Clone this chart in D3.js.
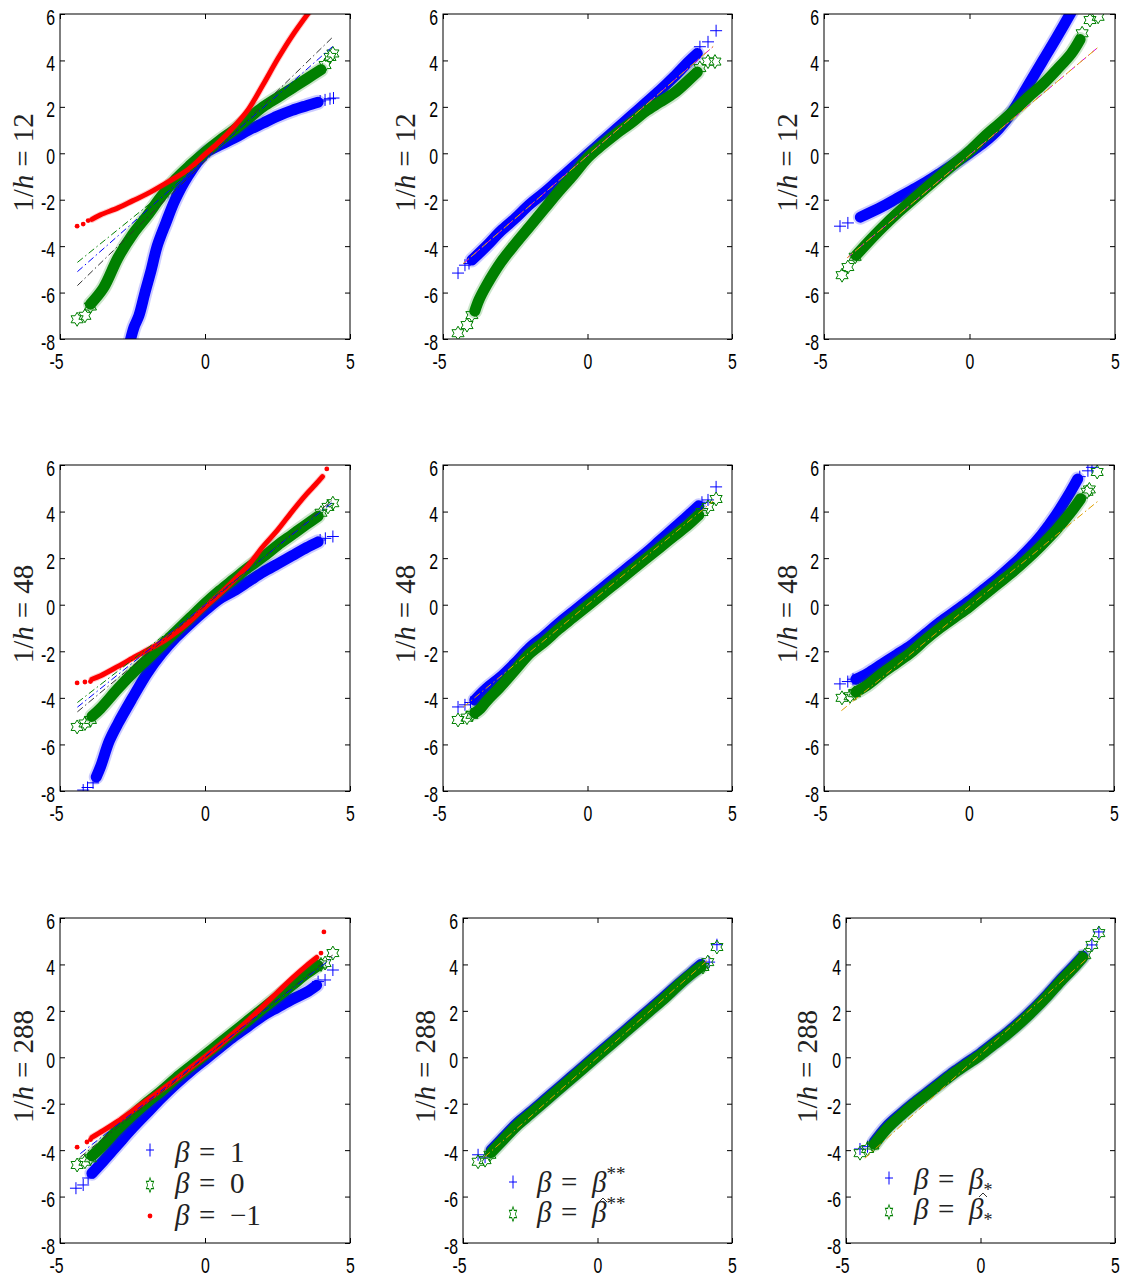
<!DOCTYPE html>
<html><head><meta charset="utf-8">
<script src="https://cdn.jsdelivr.net/npm/d3@7"></script>
<style>body{margin:0;background:#fff}</style>
</head><body>
<svg id="c" width="1126" height="1282"></svg>
<script>
// ---------- axis values ----------
const X_DOMAIN = [-5, 5];
const Y_DOMAIN = [-8, 6];
const xTicks = [-5, 0, 5];
const yTicks = [-8, -6, -4, -2, 0, 2, 4, 6];
const rowLabels = ["12", "48", "288"];

// ---------- row 1 (1/h = 12) ----------
const r1c1_blue  = [[-2.62,-8.3],[-2.45,-7.5],[-2.28,-7],[-2.07,-6],[-1.85,-5],[-1.65,-4],[-1.35,-3],[-1.03,-2],[-0.6,-1.0],[0,0],[0.5,0.35],[1,0.65],[1.5,1.0],[2,1.3],[2.5,1.6],[3,1.85],[3.5,2.05],[3.9,2.2]];
const r1c1_blueT = [[3.97,2.25],[4.14,2.3],[4.31,2.35],[4.43,2.38]];
const r1c1_green = [[-3.95,-6.5],[-3.5,-5.8],[-3,-4.5],[-2.5,-3.5],[-2,-2.7],[-1.5,-1.85],[-1,-1.1],[-0.5,-0.5],[0,0.05],[0.5,0.55],[1,1.0],[1.5,1.5],[2,2.0],[2.5,2.4],[3,2.8],[3.5,3.2],[4,3.6]];
const r1c1_greenT= [[-4.41,-7.15],[-4.14,-7.0],[-3.95,-6.6],[4.14,3.8],[4.31,4.15],[4.41,4.3]];
const r1c1_red   = [[-3.9,-2.85],[-3.6,-2.65],[-3,-2.35],[-2.5,-2.05],[-2,-1.75],[-1.3,-1.25],[-0.6,-0.72],[0,-0.05],[0.5,0.5],[1,1.15],[1.5,1.9],[2,2.95],[2.5,4.05],[3,5.05],[3.6,6.1]];
const r1c1_redT  = [[-4.41,-3.14],[-4.2,-3.05],[-4.03,-2.9]];
const r1c1_refs  = [{c:"#333", p:[[-4.4,-5.7],[4.4,5.0]]},{c:"#0000ff", p:[[-4.4,-5.1],[4.4,4.6]]},{c:"#008000", p:[[-4.4,-4.7],[4.4,4.2]]}];

const r1c2_blue  = [[-4.0,-4.6],[-3.5,-4.0],[-3,-3.35],[-2.5,-2.8],[-2,-2.2],[-1.5,-1.7],[-1,-1.15],[-0.5,-0.6],[0,-0.05],[0.5,0.5],[1,1.05],[1.5,1.6],[2,2.15],[2.5,2.7],[3,3.3],[3.5,3.95],[3.8,4.3]];
const r1c2_blueT = [[-4.48,-5.16],[-4.24,-4.82],[-4.1,-4.75],[3.89,4.59],[4.17,4.8],[4.45,5.28]];
const r1c2_green = [[-3.9,-6.8],[-3.75,-6.3],[-3.5,-5.7],[-3,-4.7],[-2.5,-3.9],[-2,-3.15],[-1.5,-2.4],[-1,-1.65],[-0.5,-0.95],[0,-0.2],[0.5,0.35],[1,0.85],[1.5,1.3],[2,1.8],[2.5,2.2],[3,2.6],[3.5,3.15],[3.8,3.5]];
const r1c2_greenT= [[-4.48,-7.75],[-4.17,-7.4],[-4.0,-6.97],[3.89,3.67],[4.17,3.95],[4.41,3.95]];
const r1c2_refs  = [{c:"#e000e0", p:[[-4.3,-4.75],[4.35,4.6]]},{c:"#e0b000", p:[[-4.3,-4.75],[4.35,4.6]], off:4}];

const r1c3_blue  = [[-3.75,-2.75],[-3,-2.3],[-2.5,-1.95],[-2,-1.6],[-1.5,-1.25],[-1,-0.85],[-0.5,-0.43],[0,0.01],[0.5,0.47],[1,1.05],[1.5,1.85],[2,2.9],[2.5,3.95],[3,5.0],[3.55,6.2]];
const r1c3_blueT = [[-4.45,-3.14],[-4.18,-3.0]];
const r1c3_green = [[-3.9,-4.4],[-3.5,-3.85],[-3,-3.2],[-2.5,-2.6],[-2,-2.05],[-1.5,-1.5],[-1,-0.96],[-0.5,-0.43],[0,0.1],[0.5,0.7],[1,1.25],[1.5,1.8],[2,2.4],[2.5,2.95],[3,3.6],[3.5,4.3],[3.8,4.9]];
const r1c3_greenT= [[-4.38,-5.25],[-4.18,-4.9],[-3.93,-4.46],[3.87,5.17],[4.14,5.74],[4.42,5.88]];
const r1c3_refs  = [{c:"#e000e0", p:[[-4.2,-4.5],[4.45,4.6]]},{c:"#e0b000", p:[[-4.2,-4.5],[4.45,4.6]], off:4}];

// ---------- row 2 (1/h = 48) ----------
const r2c1_blue  = [[-3.75,-7.4],[-3.6,-6.95],[-3.3,-5.85],[-3,-5.1],[-2.5,-4.0],[-2,-2.95],[-1.5,-2.1],[-1,-1.4],[-0.5,-0.8],[0,-0.25],[0.5,0.25],[1,0.6],[1.5,1.0],[2,1.4],[2.5,1.75],[3,2.1],[3.5,2.45],[3.9,2.7]];
const r2c1_blueT = [[-4.2,-7.96],[-4.05,-7.85],[-3.86,-7.65],[3.97,2.78],[4.15,2.85],[4.41,2.93]];
const r2c1_green = [[-3.9,-4.8],[-3.6,-4.45],[-3,-3.6],[-2.5,-2.95],[-2,-2.35],[-1.5,-1.75],[-1,-1.15],[-0.5,-0.55],[0,0.05],[0.5,0.6],[1,1.1],[1.5,1.6],[2,2.05],[2.5,2.55],[3,3.0],[3.5,3.45],[3.9,3.8]];
const r2c1_greenT= [[-4.41,-5.25],[-4.14,-5.1],[-3.95,-4.95],[4.0,3.95],[4.24,4.2],[4.41,4.36]];
const r2c1_red   = [[-3.9,-3.2],[-3.6,-3.05],[-3,-2.65],[-2.5,-2.3],[-2,-1.95],[-1.5,-1.62],[-1,-1.19],[-0.5,-0.69],[0,-0.1],[0.5,0.45],[1,1.05],[1.5,1.7],[2,2.5],[2.5,3.2],[3,4.0],[3.5,4.75],[3.8,5.15],[4.05,5.5]];
const r2c1_redT  = [[-4.41,-3.36],[-4.14,-3.32],[-3.95,-3.3],[4.2,5.83]];
const r2c1_refs  = [{c:"#333", p:[[-4.4,-4.6],[4.4,4.5]]},{c:"#0000ff", p:[[-4.4,-4.4],[4.4,4.4]]},{c:"#008000", p:[[-4.4,-4.2],[4.4,4.3]]}];

const r2c2_blue  = [[-3.9,-4.1],[-3.5,-3.6],[-3,-3.1],[-2.5,-2.5],[-2,-1.85],[-1.5,-1.35],[-1,-0.8],[-0.5,-0.3],[0,0.2],[0.5,0.7],[1,1.2],[1.5,1.7],[2,2.2],[2.5,2.75],[3,3.3],[3.5,3.85],[3.85,4.25]];
const r2c2_blueT = [[-4.48,-4.39],[-4.24,-4.3],[-4.05,-4.2],[3.96,4.4],[4.17,4.5],[4.45,5.06]];
const r2c2_green = [[-3.9,-4.65],[-3.7,-4.45],[-3.5,-4.15],[-3,-3.5],[-2.5,-2.8],[-2,-2.1],[-1.5,-1.6],[-1,-1.05],[-0.5,-0.55],[0,-0.05],[0.5,0.45],[1,0.95],[1.5,1.45],[2,1.95],[2.5,2.45],[3,2.95],[3.5,3.45],[3.85,3.85]];
const r2c2_greenT= [[-4.48,-4.95],[-4.17,-4.85],[-4.0,-4.73],[3.96,3.98],[4.17,4.2],[4.45,4.54]];
const r2c2_refs  = [{c:"#e0a000", p:[[-4.3,-4.4],[4.35,4.45]]}];

const r2c3_blue  = [[-3.9,-3.2],[-3.5,-2.95],[-3,-2.55],[-2.5,-2.15],[-2,-1.75],[-1.5,-1.25],[-1,-0.75],[-0.5,-0.3],[0,0.15],[0.5,0.65],[1,1.15],[1.5,1.7],[2,2.3],[2.5,3.0],[3,3.85],[3.5,4.85],[3.75,5.4]];
const r2c3_blueT = [[-4.45,-3.4],[-4.18,-3.3],[-4.0,-3.2],[3.82,5.5],[4.1,5.75],[4.24,5.9]];
const r2c3_green = [[-3.9,-3.75],[-3.5,-3.45],[-3,-2.95],[-2.5,-2.5],[-2,-2.05],[-1.5,-1.5],[-1,-1.0],[-0.5,-0.55],[0,-0.1],[0.5,0.4],[1,0.9],[1.5,1.4],[2,1.95],[2.5,2.55],[3,3.2],[3.5,3.95],[3.85,4.55]];
const r2c3_greenT= [[-4.38,-4.0],[-4.1,-3.93],[-3.95,-3.8],[4.07,4.85],[4.15,4.95],[4.42,5.7]];
const r2c3_refs  = [{c:"#e0a000", p:[[-4.4,-4.55],[4.45,4.45]]}];

// ---------- row 3 (1/h = 288) ----------
const r3c1_blue  = [[-3.9,-5.0],[-3.6,-4.6],[-3,-3.75],[-2.5,-3.05],[-2,-2.4],[-1.5,-1.75],[-1,-1.15],[-0.5,-0.6],[0,-0.1],[0.5,0.4],[1,0.9],[1.5,1.35],[2,1.8],[2.5,2.15],[3,2.5],[3.5,2.8],[3.85,3.1]];
const r3c1_blueT = [[-4.45,-5.64],[-4.2,-5.5],[-4.03,-5.2],[3.9,3.26],[4.14,3.33],[4.41,3.76]];
const r3c1_green = [[-3.9,-4.25],[-3.6,-3.9],[-3,-3.1],[-2.5,-2.5],[-2,-1.95],[-1.5,-1.45],[-1,-0.9],[-0.5,-0.4],[0,0.1],[0.5,0.6],[1,1.1],[1.5,1.6],[2,2.1],[2.5,2.6],[3,3.1],[3.5,3.6],[3.9,3.95]];
const r3c1_greenT= [[-4.41,-4.64],[-4.14,-4.5],[-3.95,-4.35],[4.0,4.0],[4.14,4.06],[4.41,4.49]];
const r3c1_red   = [[-3.9,-3.45],[-3.5,-3.15],[-3,-2.75],[-2.5,-2.3],[-2,-1.85],[-1.5,-1.4],[-1,-0.95],[-0.5,-0.45],[0,0.02],[0.5,0.52],[1,1.05],[1.5,1.6],[2,2.2],[2.5,2.8],[3,3.4],[3.5,3.95],[3.85,4.3]];
const r3c1_redT  = [[-4.41,-3.87],[-4.07,-3.65],[-3.95,-3.55],[4.0,4.49],[4.1,5.4]];
const r3c1_refs  = [{c:"#333", p:[[-4.3,-4.3],[4.4,4.4]]},{c:"#0000ff", p:[[-4.3,-4.15],[4.4,4.3]]}];

const r3c2_blue  = [[-3.95,-4.0],[-3.5,-3.45],[-3,-2.85],[-2.5,-2.37],[-2,-1.87],[-1.5,-1.37],[-1,-0.87],[-0.5,-0.37],[0,0.13],[0.5,0.63],[1,1.13],[1.5,1.63],[2,2.13],[2.5,2.63],[3,3.15],[3.5,3.65],[3.85,4.0]];
const r3c2_blueT = [[-4.44,-4.2],[-4.18,-4.3],[4.15,4.1],[4.44,4.85]];
const r3c2_green = [[-3.95,-4.1],[-3.5,-3.55],[-3,-2.95],[-2.5,-2.45],[-2,-1.95],[-1.5,-1.45],[-1,-0.95],[-0.5,-0.45],[0,0.05],[0.5,0.55],[1,1.05],[1.5,1.55],[2,2.05],[2.5,2.55],[3,3.1],[3.5,3.6],[3.85,3.9]];
const r3c2_greenT= [[-4.44,-4.5],[-4.18,-4.43],[-4.0,-4.2],[3.92,3.89],[4.1,4.1],[4.44,4.75]];
const r3c2_refs  = [{c:"#e0a000", p:[[-4.2,-4.3],[4.3,4.4]]}];

const r3c3_blue  = [[-3.95,-3.65],[-3.5,-3.0],[-3,-2.47],[-2.5,-1.98],[-2,-1.53],[-1.5,-1.08],[-1,-0.63],[-0.5,-0.23],[0,0.17],[0.5,0.62],[1,1.07],[1.5,1.57],[2,2.12],[2.5,2.72],[3,3.37],[3.5,3.97],[3.8,4.35]];
const r3c3_blueT = [[-4.48,-3.95],[-4.2,-3.85],[4.14,4.84],[4.4,5.4]];
const r3c3_green = [[-3.95,-3.75],[-3.5,-3.1],[-3,-2.55],[-2.5,-2.05],[-2,-1.6],[-1.5,-1.15],[-1,-0.7],[-0.5,-0.3],[0,0.1],[0.5,0.55],[1,1.0],[1.5,1.5],[2,2.05],[2.5,2.65],[3,3.3],[3.5,3.9],[3.8,4.3]];
const r3c3_greenT= [[-4.48,-4.13],[-4.2,-3.95],[-4.0,-3.8],[3.88,4.4],[4.14,4.84],[4.4,5.35]];
const r3c3_refs  = [{c:"#e0a000", p:[[-4.3,-4.35],[4.05,4.35]]}];

// ---------- legends ----------
const legend1 = [{k:"blue", t:"1"},{k:"green", t:"0"},{k:"red", t:"\u22121"}];
const legend2 = [{k:"blue", t:"\u03B2", sup:"**"},{k:"green", t:"\u03B2", sup:"**", hat:true}];
const legend3 = [{k:"blue", t:"\u03B2", sub:"*"},{k:"green", t:"\u03B2", sub:"*", hat:true}];

// ---------- layout (positions only) ----------
const rowY = [[14,339],[465,791],[918,1243]];
const colX = [[[60,350],[443,732],[824,1115]],[[60,350],[443,732],[824,1114]],[[60,350],[463,732],[846,1115]]];
const labelBase = [[33,415,797],[33,415,797],[33,435,817]];
const legendPos = [
  {mx:150, tx:175, ys:[1150,1185,1216], bs:[1162,1193,1225]},
  {mx:513, tx:537, ys:[1182,1214], bs:[1192,1222], hat:[66,-22]},
  {mx:889, tx:914, ys:[1178,1212], bs:[1189,1219], hat:[69,-24]}
];

const S = (band, tail, kind) => ({band, tail, kind});
const panels = [
  {r:0,c:0, series:[S(r1c1_blue,r1c1_blueT,"blue"),S(r1c1_green,r1c1_greenT,"green"),S(r1c1_red,r1c1_redT,"red")], refs:r1c1_refs},
  {r:0,c:1, series:[S(r1c2_blue,r1c2_blueT,"blue"),S(r1c2_green,r1c2_greenT,"green")], refs:r1c2_refs},
  {r:0,c:2, series:[S(r1c3_blue,r1c3_blueT,"blue"),S(r1c3_green,r1c3_greenT,"green")], refs:r1c3_refs},
  {r:1,c:0, series:[S(r2c1_blue,r2c1_blueT,"blue"),S(r2c1_green,r2c1_greenT,"green"),S(r2c1_red,r2c1_redT,"red")], refs:r2c1_refs},
  {r:1,c:1, series:[S(r2c2_blue,r2c2_blueT,"blue"),S(r2c2_green,r2c2_greenT,"green")], refs:r2c2_refs},
  {r:1,c:2, series:[S(r2c3_blue,r2c3_blueT,"blue"),S(r2c3_green,r2c3_greenT,"green")], refs:r2c3_refs},
  {r:2,c:0, series:[S(r3c1_blue,r3c1_blueT,"blue"),S(r3c1_green,r3c1_greenT,"green"),S(r3c1_red,r3c1_redT,"red")], refs:r3c1_refs, legend:legend1},
  {r:2,c:1, series:[S(r3c2_blue,r3c2_blueT,"blue"),S(r3c2_green,r3c2_greenT,"green")], refs:r3c2_refs, legend:legend2},
  {r:2,c:2, series:[S(r3c3_blue,r3c3_blueT,"blue"),S(r3c3_green,r3c3_greenT,"green")], refs:r3c3_refs, legend:legend3}
];

// ---------- styles ----------
function hexagram(R){
  const r = R/Math.sqrt(3), pts=[];
  for(let k=0;k<12;k++){const a=-Math.PI/2+k*Math.PI/6, rr=k%2?r:R; pts.push([rr*Math.cos(a),rr*Math.sin(a)]);}
  return "M"+pts.map(p=>p[0].toFixed(2)+","+p[1].toFixed(2)).join("L")+"Z";
}
const styles = {
  blue:{color:"#0000ff", w:11, halo:15, marker:"M-6,0H6M0,-6V6"},
  green:{color:"#008000", w:11, halo:15, marker:hexagram(7)},
  red:{color:"#ff0000", w:5, halo:7, marker:null}
};
const tickFont = "'Liberation Sans','Arial',sans-serif";
const SX = 0.72;

const svg = d3.select("#c");
const defs = svg.append("defs");

panels.forEach((p,i)=>{
  const [L,R] = colX[p.r][p.c], [T,B] = rowY[p.r];
  const x = d3.scaleLinear().domain(X_DOMAIN).range([L,R]);
  const y = d3.scaleLinear().domain(Y_DOMAIN).range([B,T]);
  const g = svg.append("g");
  defs.append("clipPath").attr("id","clip"+i).append("rect").attr("x",L).attr("y",T).attr("width",R-L).attr("height",B-T);
  const plot = g.append("g").attr("clip-path",`url(#clip${i})`);
  const line = d3.line().x(d=>x(d[0])).y(d=>y(d[1])).curve(d3.curveCatmullRom.alpha(0.5));

  p.series.forEach(s=>{
    const st = styles[s.kind];
    plot.append("path").attr("d",line(s.band)).attr("fill","none").attr("stroke",st.color)
      .attr("stroke-width",st.halo).attr("stroke-opacity",0.2).attr("stroke-linecap","round");
    plot.append("path").attr("d",line(s.band)).attr("fill","none").attr("stroke",st.color)
      .attr("stroke-width",st.w).attr("stroke-linecap","round");
    if(st.marker){
      plot.selectAll(null).data(s.tail).enter().append("path")
        .attr("transform",d=>`translate(${x(d[0])},${y(d[1])})`).attr("d",st.marker)
        .attr("fill","none").attr("stroke",st.color).attr("stroke-width",1);
    } else {
      plot.selectAll(null).data(s.tail).enter().append("circle")
        .attr("cx",d=>x(d[0])).attr("cy",d=>y(d[1])).attr("r",2.4).attr("fill",st.color);
    }
  });

  const refLine = d3.line().x(d=>x(d[0])).y(d=>y(d[1]));
  p.refs.forEach(rf=>{
    plot.append("path").attr("d",refLine(rf.p)).attr("fill","none").attr("stroke",rf.c)
      .attr("stroke-width",1).attr("stroke-dasharray","7,3,1.5,3").attr("stroke-dashoffset",rf.off||0);
  });

  // axes
  const fmt = d=>String(d);
  const left = g.append("g").attr("transform",`translate(${L},0)`)
    .call(d3.axisLeft(y).tickValues(yTicks).tickSize(-5).tickFormat(fmt));
  left.selectAll("text").attr("x",-5/SX).attr("dy",10).attr("transform",`scale(${SX},1)`);
  const bottom = g.append("g").attr("transform",`translate(0,${B})`)
    .call(d3.axisBottom(x).tickValues(xTicks).tickSize(-5).tickFormat(fmt));
  bottom.selectAll("text").attr("y",30).attr("dy",0).attr("x",d=>(d<0?-4:0)/SX).attr("transform",`scale(${SX},1)`);
  g.append("g").attr("transform",`translate(${R},0)`).call(d3.axisRight(y).tickValues(yTicks).tickSize(-5).tickFormat(""));
  g.append("g").attr("transform",`translate(0,${T})`).call(d3.axisTop(x).tickValues(xTicks).tickSize(-5).tickFormat(""));
  g.selectAll(".domain").remove();
  g.selectAll(".tick line").attr("stroke","#000");
  g.selectAll(".tick text").attr("fill","#000").style("font-family",tickFont).style("font-size","22px");
  g.append("rect").attr("x",L).attr("y",T).attr("width",R-L).attr("height",B-T)
    .attr("fill","none").attr("stroke","#000").attr("stroke-width",1);

  // y label
  const t = g.append("text")
    .attr("transform",`translate(${labelBase[p.r][p.c]},${(T+B)/2-14}) rotate(-90)`)
    .attr("text-anchor","middle").attr("fill","#222")
    .style("font-family","'Liberation Serif','Times New Roman',serif").style("font-size","29px");
  t.append("tspan").text("1/");
  t.append("tspan").style("font-style","italic").text("h");
  t.append("tspan").attr("dx",8).text("=");
  t.append("tspan").attr("dx",8).text(rowLabels[p.r]);

  // legend
  if(p.legend){
    const lp = legendPos[p.c];
    p.legend.forEach((e,j)=>{
      const st = styles[e.k], my = lp.ys[j], by = lp.bs[j];
      if(e.k==="blue") g.append("path").attr("transform",`translate(${lp.mx},${my})`).attr("d","M-4,0H4M0,-6.5V6.5").attr("stroke",st.color).attr("fill","none");
      if(e.k==="green") g.append("path").attr("transform",`translate(${lp.mx},${my}) scale(0.6,1.05)`).attr("d",hexagram(7)).attr("stroke",st.color).attr("stroke-width",1.2).attr("fill","none");
      if(e.k==="red") g.append("circle").attr("cx",lp.mx).attr("cy",my).attr("r",2.4).attr("fill",st.color);
      const tx = g.append("text").attr("y",by).attr("fill","#222")
        .style("font-family","'Liberation Serif','Times New Roman',serif").style("font-size","29px");
      tx.append("tspan").attr("x",lp.tx).style("font-style","italic").text("\u03B2");
      tx.append("tspan").attr("x",lp.tx+24).text("=");
      const v = tx.append("tspan").attr("x",lp.tx+55).text(e.t);
      if(e.t==="\u03B2") v.style("font-style","italic");
      if(e.sup) tx.append("tspan").attr("dy",-12).style("font-size","19px").text(e.sup);
      if(e.sub) tx.append("tspan").attr("dy",7).style("font-size","18px").text(e.sub);
      if(e.hat) g.append("path").attr("transform",`translate(${lp.tx+lp.hat[0]},${by+lp.hat[1]})`)
        .attr("d","M-4,2L0,-2L4,2").attr("fill","none").attr("stroke","#333").attr("stroke-width",1);
    });
  }
});
</script>
</body></html>
